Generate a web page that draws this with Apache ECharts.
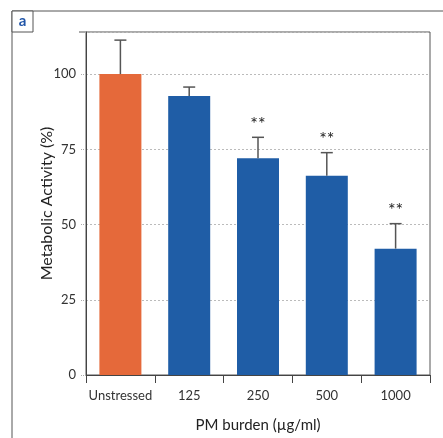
<!DOCTYPE html>
<html>
<head>
<meta charset="utf-8">
<script src="https://cdn.jsdelivr.net/npm/echarts@6/dist/echarts.min.js"></script>
<style>
  html, body { margin: 0; padding: 0; background: #fff; }
  #chart { width: 443px; height: 438px; }
</style>
</head>
<body>
<div id="chart"></div>
<script>
const categories = ['Unstressed', '125', '250', '500', '1000'];
const activity = [100, 92.7, 72, 66.2, 42];
const errorTop = [111.3, 95.7, 79, 73.9, 50.3];
const signif = ['', '', '**', '**', '**'];
const yTicks = [0, 25, 50, 75, 100];

const ORANGE = '#E5693A';
const BLUE = '#1F5DA6';
const FONT = 'Lato';

const chart = echarts.init(document.getElementById('chart'));

const barData = activity.map((v, i) => ({
  value: v,
  itemStyle: { color: i === 0 ? ORANGE : BLUE }
}));

const errData = categories.map((c, i) => [i, activity[i], errorTop[i]]);

chart.setOption({
  animation: false,
  textStyle: { fontFamily: FONT },
  grid: {
    left: 86, top: 32, right: 13, bottom: 63,
    show: true, borderColor: '#555', borderWidth: 1
  },
  graphic: [
    // outer panel frame + panel letter
    { type: 'line', shape: { x1: 12, y1: 11, x2: 443, y2: 11 }, style: { stroke: '#555', lineWidth: 1 } },
    { type: 'line', shape: { x1: 12, y1: 11, x2: 12, y2: 438 }, style: { stroke: '#555', lineWidth: 1 } },
    { type: 'line', shape: { x1: 79, y1: 32, x2: 86, y2: 32 }, style: { stroke: '#555', lineWidth: 1 } },
    { type: 'rect', shape: { x: 12, y: 11, width: 21, height: 21 }, style: { fill: '#fff', stroke: '#555', lineWidth: 1 } },
    { type: 'text', x: 22.5, y: 21.5, style: { text: 'a', fill: '#2256A8', font: 'bold 15px ' + FONT, align: 'center', verticalAlign: 'middle' } }
  ],
  xAxis: {
    type: 'category',
    data: categories,
    name: 'PM burden (µg/ml)',
    nameLocation: 'middle',
    nameGap: 43,
    nameTextStyle: { fontSize: 15, color: '#222', fontFamily: FONT },
    axisLine: { lineStyle: { color: '#444', width: 1 } },
    axisTick: { show: true, length: 8, lineStyle: { color: '#444' } },
    axisLabel: { interval: 0, fontSize: 13, color: '#333', margin: 14, fontFamily: FONT }
  },
  yAxis: {
    type: 'value',
    min: 0,
    max: 114,
    interval: 25,
    name: 'Metabolic Activity (%)',
    nameLocation: 'middle',
    nameGap: 31,
    nameMoveOverlap: false,
    nameTextStyle: { fontSize: 16, color: '#222', fontFamily: FONT },
    axisLine: { show: true, lineStyle: { color: '#444', width: 1 } },
    axisTick: { show: true, length: 6, lineStyle: { color: '#aaa', type: 'dotted' } },
    axisLabel: {
      fontSize: 13, color: '#333', margin: 10, fontFamily: FONT,
      formatter: v => (yTicks.indexOf(v) >= 0 ? String(v) : '')
    },
    splitLine: { show: true, lineStyle: { color: '#bbb', type: [2, 2], width: 1 } }
  },
  series: [
    {
      type: 'bar',
      data: barData,
      barWidth: 42,
      z: 2
    },
    {
      type: 'custom',
      z: 3,
      data: errData,
      renderItem: (params, api) => {
        const x = api.value(0);
        const base = api.coord([x, api.value(1)]);
        const top = api.coord([x, api.value(2)]);
        const star = signif[params.dataIndex];
        const cap = 6;
        const children = [
          { type: 'line', shape: { x1: base[0], y1: base[1], x2: top[0], y2: top[1] }, style: { stroke: '#555', lineWidth: 1.5 } },
          { type: 'line', shape: { x1: top[0] - cap, y1: top[1], x2: top[0] + cap, y2: top[1] }, style: { stroke: '#555', lineWidth: 1.5 } }
        ];
        if (star) {
          children.push({
            type: 'text',
            x: top[0], y: top[1] - 13,
            style: { text: star, fill: '#222', font: '18px ' + FONT, align: 'center', verticalAlign: 'middle' }
          });
        }
        return { type: 'group', children: children };
      }
    }
  ]
});
</script>
</body>
</html>
